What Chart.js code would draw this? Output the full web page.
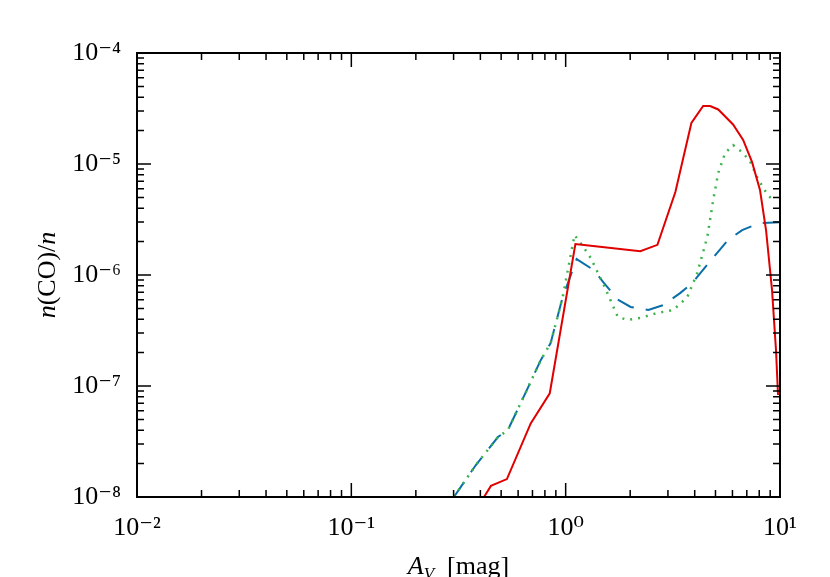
<!DOCTYPE html>
<html><head><meta charset="utf-8">
<script src="https://cdn.jsdelivr.net/npm/chart.js@4/dist/chart.umd.min.js"></script>
<style>html,body{margin:0;padding:0;background:#fff}#w{width:830px;height:577px}</style>
</head><body><div id="w"><canvas id="c"></canvas></div>
<script>
const xTicks=[0.01,0.1,1,10];
const xTickLabels=['10⁻²','10⁻¹','10⁰','10¹'];
const yTicks=[1e-8,1e-7,1e-6,1e-5,1e-4];
const yTickLabels=['10⁻⁸','10⁻⁷','10⁻⁶','10⁻⁵','10⁻⁴'];
const redX=[0.416,0.448,0.532,0.687,0.843,1.11,1.31,2.23,2.68,3.25,3.86,4.38,4.72,5.15,6.04,6.73,7.41,8.07,8.61,9.18,9.58,9.79];
const redY=[1e-8,1.26e-8,1.45e-8,4.6e-8,8.6e-8,1.9e-6,1.83e-6,1.64e-6,1.87e-6,5.6e-6,2.34e-5,3.33e-5,3.33e-5,3.1e-5,2.27e-5,1.65e-5,1.04e-5,5.8e-6,2.53e-6,7.3e-7,2.1e-7,8.3e-8];
const blueX=[0.301,0.381,0.483,0.537,0.652,0.765,0.851,0.968,1.125,1.35,1.50,1.75,2.01,2.43,2.86,3.43,3.90,4.48,4.99,5.73,6.66,8.07,10];
const blueY=[1e-8,1.94e-8,3.47e-8,4.0e-8,8.8e-8,1.71e-7,2.44e-7,6.3e-7,1.39e-6,1.11e-6,8.6e-7,6.0e-7,5.15e-7,4.84e-7,5.37e-7,6.9e-7,8.5e-7,1.18e-6,1.51e-6,2.07e-6,2.54e-6,2.94e-6,2.99e-6];
const greenX=[0.301,0.381,0.483,0.537,0.652,0.765,0.851,0.968,1.10,1.21,1.31,1.53,1.75,1.94,2.23,2.68,3.18,3.69,4.11,4.58,4.88,5.15,5.55,6.04,6.66,7.25,7.90,8.79,9.48];
const greenY=[1e-8,1.94e-8,3.47e-8,4.0e-8,8.8e-8,1.71e-7,2.44e-7,6.3e-7,2.29e-6,1.79e-6,1.42e-6,7.6e-7,4.2e-7,3.94e-7,4.1e-7,4.55e-7,4.84e-7,6.3e-7,1.04e-6,2.2e-6,4.74e-6,8.3e-6,1.26e-5,1.48e-5,1.28e-5,1.06e-5,7.3e-6,5.2e-6,4.6e-6];
const pts=(xs,ys)=>xs.map((x,i)=>({x:x,y:ys[i]}));
const FONT='"Liberation Serif","DejaVu Serif",serif';
const frame={id:'frame',afterDraw(ch){
  const c=ch.ctx,a=ch.chartArea,xs=ch.scales.x,ys=ch.scales.y;
  c.save();c.strokeStyle='#000';c.lineWidth=2;
  c.strokeRect(a.left,a.top,a.right-a.left,a.bottom-a.top);
  c.lineWidth=1.5;
  for(let d=-2;d<1;d++)for(let m=1;m<10;m++){const v=m*Math.pow(10,d);const p=xs.getPixelForValue(v);const L=m==1?14:7;
    c.beginPath();c.moveTo(p,a.bottom);c.lineTo(p,a.bottom-L);c.moveTo(p,a.top);c.lineTo(p,a.top+L);c.stroke();}
  for(let d=-8;d<-4;d++)for(let m=1;m<10;m++){const v=m*Math.pow(10,d);const p=ys.getPixelForValue(v);const L=m==1?14:7;
    c.beginPath();c.moveTo(a.left,p);c.lineTo(a.left+L,p);c.moveTo(a.right,p);c.lineTo(a.right-L,p);c.stroke();}
  c.fillStyle='#000';c.textBaseline='alphabetic';
  // x title
  const cx=(a.left+a.right)/2;c.font='italic 26px '+FONT;
  const t1='A',t2='V',t3='  [mag]';
  c.font='italic 26px '+FONT;const w1=c.measureText(t1).width;
  c.font='italic 17px '+FONT;const w2=c.measureText(t2).width;
  c.font='26px '+FONT;const w3=c.measureText(t3).width;
  let x0=cx-(w1+w2+w3)/2,yb=574;
  c.font='italic 26px '+FONT;c.fillText(t1,x0,yb);
  c.font='italic 17px '+FONT;c.fillText(t2,x0+w1,yb+5);
  c.font='26px '+FONT;c.fillText(t3,x0+w1+w2,yb);
  // y title
  c.translate(55,(a.top+a.bottom)/2);c.rotate(-Math.PI/2);
  const parts=[['n','italic '],['(CO)/',''],['n','italic ']];
  let tw=0;parts.forEach(p=>{c.font=p[1]+'26px '+FONT;tw+=c.measureText(p[0]).width;});
  let px=-tw/2;parts.forEach(p=>{c.font=p[1]+'26px '+FONT;c.fillText(p[0],px,0);px+=c.measureText(p[0]).width;});
  c.restore();
}};
new Chart(document.getElementById('c'),{type:'line',
data:{datasets:[
 {data:pts(redX,redY),borderColor:'#e00000',borderWidth:2,pointRadius:0,fill:false,tension:0},
 {data:pts(greenX,greenY),borderColor:'#3cb34a',borderWidth:2.5,borderDash:[2,6],pointRadius:0,fill:false,tension:0},
 {data:pts(blueX,blueY),borderColor:'#0a6fa8',borderWidth:2,borderDash:[18,12],pointRadius:0,fill:false,tension:0}
]},
options:{responsive:true,maintainAspectRatio:false,animation:false,
 layout:{padding:{top:53,right:50,left:0,bottom:0}},
 plugins:{legend:{display:false},tooltip:{enabled:false}},
 scales:{
  x:{type:'logarithmic',min:0.01,max:10,grid:{display:false},border:{display:false},
   afterBuildTicks:s=>{s.ticks=xTicks.map(v=>({value:v}));},
   afterFit:s=>{s.height=80;},
   ticks:{autoSkip:false,maxRotation:0,padding:8,color:'#000',font:{family:FONT,size:26},callback:v=>{const i=xTicks.indexOf(v);return i<0?'':xTickLabels[i];}}},
  y:{type:'logarithmic',min:1e-8,max:1e-4,grid:{display:false},border:{display:false},
   afterBuildTicks:s=>{s.ticks=yTicks.map(v=>({value:v}));},
   afterFit:s=>{s.width=137;},
   ticks:{autoSkip:false,padding:8,color:'#000',font:{family:FONT,size:26},callback:v=>{const i=yTicks.findIndex(t=>Math.abs(t-v)/t<1e-6);return i<0?'':yTickLabels[i];}}}
 }},
plugins:[frame]});
</script></body></html>
